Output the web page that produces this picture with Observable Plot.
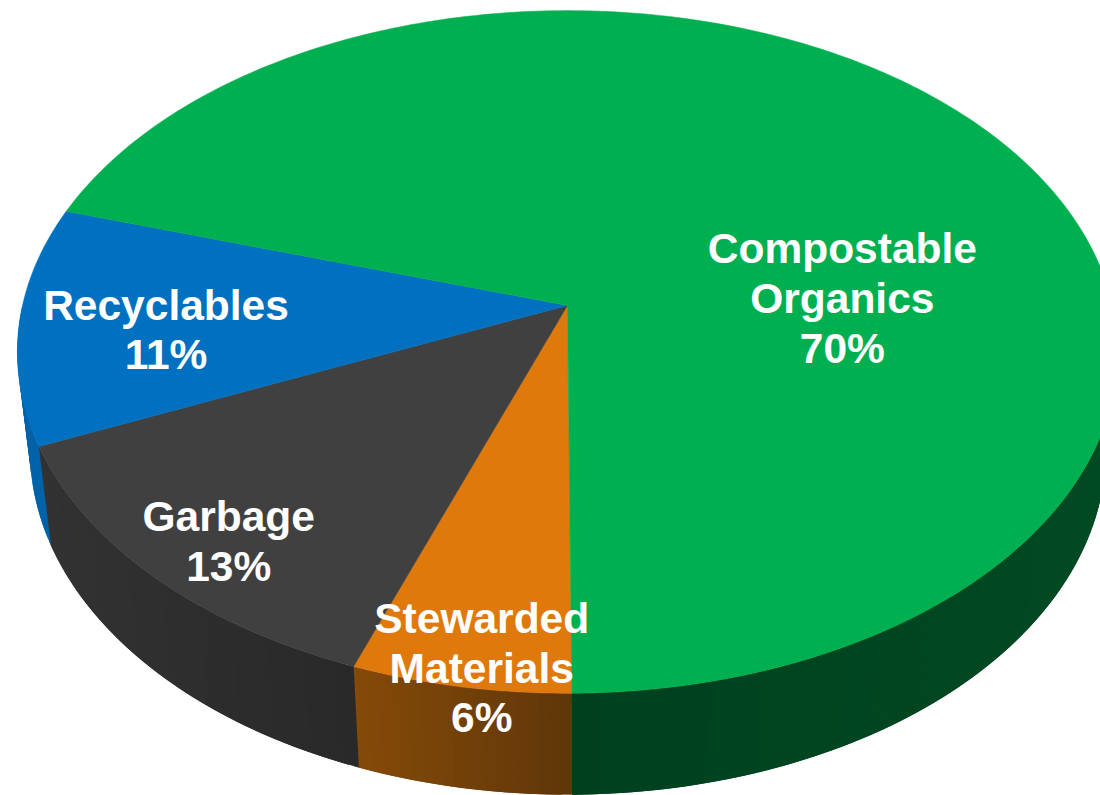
<!DOCTYPE html>
<html>
<head>
<meta charset="utf-8">
<style>
html,body{margin:0;padding:0;background:#fff;overflow:hidden}
svg{display:block}
</style>
<script src="https://cdn.jsdelivr.net/npm/d3@7"></script>
<script src="https://cdn.jsdelivr.net/npm/@observablehq/plot@0.6"></script>
</head>
<body>
<div id="chart"></div>
<script>
// Data, clockwise from six o'clock (shares)
const categories = ["Stewarded\nMaterials", "Garbage", "Recyclables", "Compostable\nOrganics"];
const shares = [5.67, 12.93, 11.23, 70.17];

// Styles
const topColors = ["#e0790c", "#404040", "#0070c0", "#00b050"];
const wallColors = [["#854a08", "#5f3709"], ["#323232", "#292929"], ["#0062a8", "#0062a8"], ["#00401f", "#004a22"]];

// Perspective view of the disc: unit circle -> chart space
const view = {
  top:    {cx: 567, cy: 305, rx: 545, ry: 335},
  bottom: {cx: 567.5, cy: 403, rx: 533, ry: 338},
  label:  {cx: 567, cy: 303, rx: 545, ry: 335},
  k: -0.136,
  rotate: -0.4
};
const rad = d => d * Math.PI / 180;
function project(deg, r, face) {
  const u = -r * Math.sin(rad(deg)), v = r * Math.cos(rad(deg)), w = 1 + view.k * v;
  return {x: face.cx + face.rx * u / w, y: face.cy + face.ry * v / w};
}

// Slices from the shares
const total = d3.sum(shares);
const ends = Array.from(d3.cumsum(shares), s => s / total * 360 + view.rotate);
const slices = categories.map((name, i) => ({
  name, share: shares[i], i,
  start: i ? ends[i - 1] : view.rotate,
  end: ends[i]
}));
const arcSteps = s => d3.range(s.start, s.end, 1).concat(s.end);

// Top faces
const topPts = slices.flatMap(s => {
  const c = {x: view.top.cx, y: view.top.cy};
  const arc = arcSteps(s).map(a => project(a, 1, view.top));
  return [c, ...arc, c].map(p => ({...p, id: s.i, color: topColors[s.i]}));
});

// Side wall (near half of the rim only), as overlapping quads shaded across each slice's width
const facing = a => Math.cos(rad(a)) >= 0;
const wallPts = slices.flatMap(s => {
  const steps = arcSteps(s).filter(facing);
  if (steps.length < 2) return [];
  const [x0, x1] = d3.extent(steps, a => project(a, 1, view.top).x);
  const shade = d3.interpolateRgb(...wallColors[s.i]);
  const last = s.i === slices.length - 1;
  return d3.pairs(steps).flatMap(([a, b], j) => {
    const from = j === 0 && s.i === 0 ? a - 0.5 : a;
    const to = j + 2 < steps.length ? steps[j + 2] : (last ? b : b + 0.5);
    const p = project(from, 1, view.top), q = project(to, 1, view.top);
    const pb = project(from, 1, view.bottom), qb = project(to, 1, view.bottom);
    const mid = project((a + b) / 2, 1, view.top).x;
    const color = d3.rgb(shade(x1 > x0 ? (mid - x0) / (x1 - x0) : 0)).formatHex();
    const id = `${s.i}-${j}`;
    return [p, q, qb, pb, p].map(pt => ({...pt, id, color}));
  });
});

// Where each label sits, relative to its slice's middle
const labelTurn = [-1.55, -1.9, -2.6, 34.5];
const labelRadius = [0.955, 0.858, 0.733, 0.506];
const labels = slices.map((s, k) => ({
  ...project((s.start + s.end) / 2 + labelTurn[k], labelRadius[k], view.label),
  text: `${s.name}\n${Math.round(s.share)}%`
}));

const chart = Plot.plot({
  width: 1100,
  height: 795,
  margin: 0,
  x: {domain: [0, 1100], range: [0, 1100], axis: null},
  y: {domain: [0, 795], range: [0, 795], axis: null},
  color: {type: "identity"},
  style: {background: "#fff", overflow: "hidden"},
  marks: [
    Plot.line(wallPts, {x: "x", y: "y", z: "id", fill: "color", stroke: "none", curve: "linear"}),
    Plot.line(topPts, {x: "x", y: "y", z: "id", fill: "color", stroke: "color", strokeWidth: 0.5, curve: "linear"}),
    Plot.text(labels, {
      x: "x", y: "y", text: "text",
      fill: "#fff", fontSize: 42.5, fontWeight: "bold",
      fontFamily: "Liberation Sans, Arial, sans-serif",
      lineHeight: 1.17, textAnchor: "middle"
    })
  ]
});
document.getElementById("chart").appendChild(chart);
</script>
</body>
</html>
